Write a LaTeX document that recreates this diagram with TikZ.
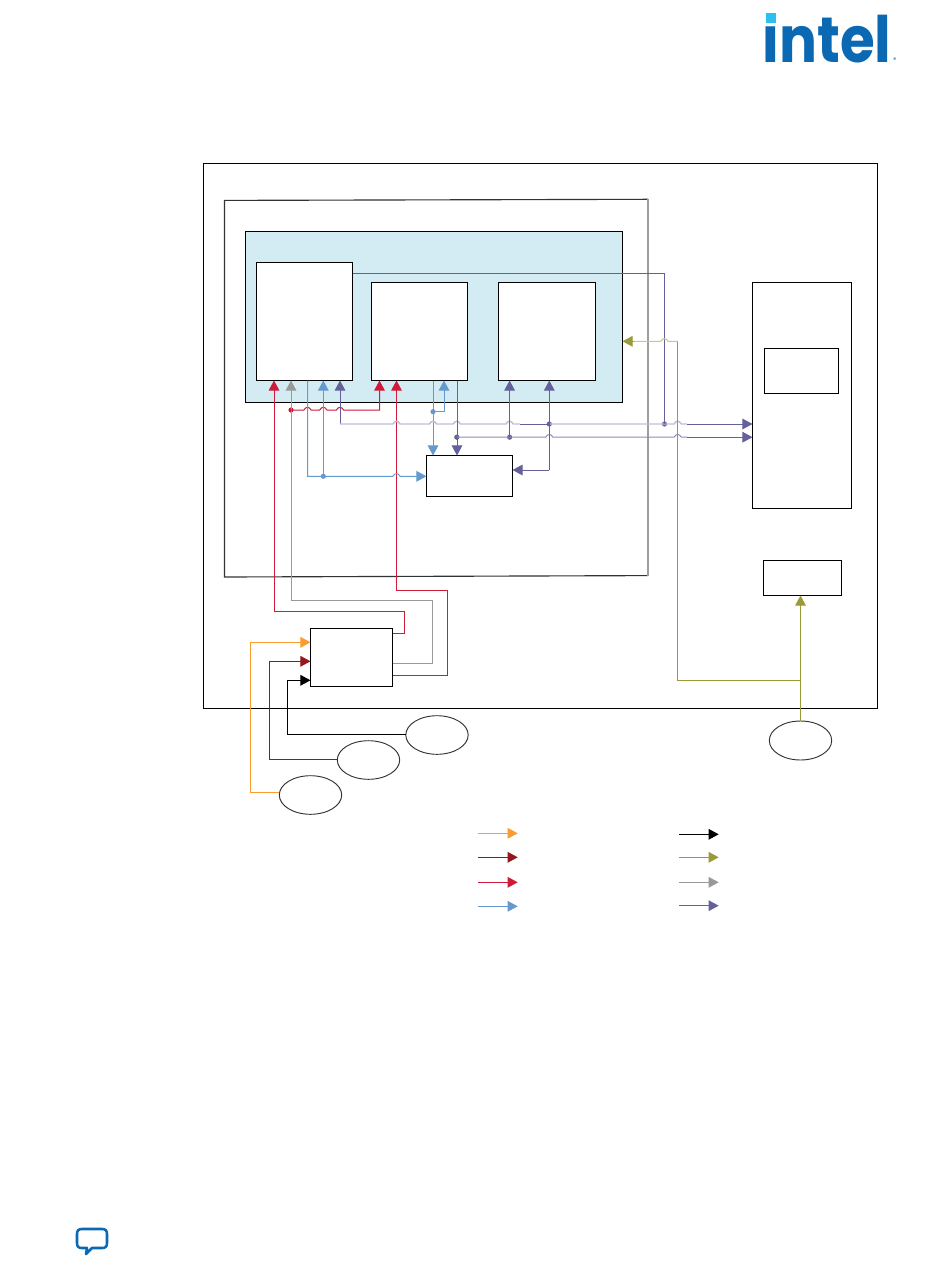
\documentclass[tikz,border=0pt]{standalone}
\usepackage{fontspec}
\usetikzlibrary{arrows.meta,shapes.geometric}
\newfontfamily\logofont{Poppins}
\definecolor{cOrange}{HTML}{F99D33}
\definecolor{cDark}{HTML}{96161D}
\definecolor{cRed}{HTML}{CE1B39}
\definecolor{cBlue}{HTML}{659ACF}
\definecolor{cPurple}{HTML}{64619A}
\definecolor{cPale}{HTML}{C0BFD6}
\definecolor{cMid}{HTML}{8F8DB8}
\definecolor{cOlive}{HTML}{9A9A38}
\definecolor{cPaleOl}{HTML}{C8C88C}
\definecolor{cGray}{HTML}{999999}
\definecolor{cTeal}{HTML}{D3ECF3}
\definecolor{cLogo}{HTML}{0B68B3}
\definecolor{cCyan}{HTML}{2CBFF0}
\tikzset{
  x=0.75pt,y=-0.75pt,
  boxst/.style={draw=black,line width=0.8pt,fill=white,rectangle,inner sep=0pt,outer sep=0pt},
  ellst/.style={draw=black!80,line width=0.7pt,fill=white,ellipse,inner sep=0pt,outer sep=0pt},
  wire/.style={line width=0.75pt,line join=miter},
  tip/.style={-{Triangle[width=8pt,length=7.6pt]}},
  dotst/.style={circle,inner sep=0pt,outer sep=0pt,minimum size=3.9pt},
}
% rectangle node from pixel corners
\newcommand{\pxbox}[6]{\node[boxst,#6,anchor=center,minimum width={(#4-#2)*0.75pt},minimum height={(#5-#3)*0.75pt}] (#1) at ({(#2+#4)/2},{(#3+#5)/2}) {};}
\newcommand{\pxell}[5]{\node[ellst,anchor=center,minimum width={2*#4*0.75pt},minimum height={2*#5*0.75pt}] (#1) at (#2,#3) {};}
\newcommand{\hop}[2]{-- (#1-3.6,#2) .. controls (#1-1.8,#2-3.6) and (#1+1.8,#2-3.6) .. (#1+3.6,#2)}
\newcommand{\jdot}[4]{\node[dotst,fill=#2] (#1) at (#3,#4) {};}
\begin{document}
\begin{tikzpicture}
\useasboundingbox (0,0) rectangle (950,1267);
\fill[white] (0,0) rectangle (950,1267);

% logo
\node[anchor=base west,inner sep=0pt,text=cLogo,xscale=0.88] (logo) at (762.4,62) {\logofont\bfseries\fontsize{48pt}{48pt}\selectfont intel};
\fill[white] (764,8) rectangle (778,25);
\fill[cCyan] (766,13) rectangle (776,22.7);
\node[anchor=center,inner sep=0pt,text=cLogo] (reg) at (894.7,60) {\logofont\fontsize{5pt}{5pt}\selectfont ®};

% speech bubble
\draw[cLogo,line width=1.9pt,line join=round] (82,1229) -- (102,1229) .. controls (105.5,1229) and (107,1230.5) .. (107,1234) -- (107,1243) .. controls (107,1246.5) and (105.5,1248) .. (102,1248) -- (92,1248) -- (86,1254) -- (87,1248) -- (82,1248) .. controls (78.5,1248) and (77,1246.5) .. (77,1243) -- (77,1234) .. controls (77,1230.5) and (78.5,1229) .. (82,1229) -- cycle;

% containers
\pxbox{outer}{203.5}{163.5}{877.5}{708.5}{}
\draw[black!80,line width=0.85pt] (648,199.3) -- (224.5,200.4) -- (224.5,577) -- (648,575.6);
\draw[black!38,line width=1.2pt] (648,198.9) -- (648,576);
\pxbox{teal}{245.5}{231.5}{622.5}{402.5}{fill=cTeal}
\pxbox{a}{256.5}{262.5}{352.5}{380.5}{}
\pxbox{b}{371.5}{282.5}{467.5}{380.5}{}
\pxbox{c}{498.5}{282.5}{595.5}{380.5}{}
\pxbox{d}{426.5}{455.5}{512.5}{496.5}{}
\pxbox{r}{752.5}{282.5}{851.5}{508.5}{}
\pxbox{rin}{764.5}{348.5}{838.5}{393.5}{}
\pxbox{e}{763.5}{560.5}{841.5}{595.5}{}
\pxbox{f}{310.5}{628.5}{392.5}{686.5}{}
\pxell{e1}{310.5}{795}{31.2}{19.3}
\pxell{e2}{368.5}{760}{31.2}{19.3}
\pxell{e3}{437}{735}{31.2}{19.3}
\pxell{e4}{800.5}{740.5}{31.2}{19.5}

% junctions
\jdot{jR}{cRed}{291}{410}
\jdot{jB1}{cBlue}{323.3}{476.3}
\jdot{jB2}{cBlue}{433}{411.7}
\jdot{jP1}{cPurple}{549.3}{424}
\jdot{jP2}{cPurple}{664.5}{424}
\jdot{jP3}{cPurple}{456.8}{437.2}
\jdot{jP4}{cPurple}{509.6}{437.2}

% orange / dark red / black inputs
\draw[wire,tip,cOrange] (e1.west |- 0,792.3) -- (250.3,792.3) -- (250.3,642.3) -- (f.west |- 0,642.3);
\draw[wire,tip,cDark] (e2.west |- 0,759.3) -- (269.3,759.3) -- (269.3,661.3) -- (f.west |- 0,661.3);
\draw[wire,tip,black] (e3.west |- 0,734.3) -- (287.3,734.3) -- (287.3,680.3) -- (f.west |- 0,680.3);

% f outputs
\draw[wire,tip,cRed] (f.east |- 0,633.3) -- (404.3,633.3) -- (404.3,611.3) -- (274,611.3) -- (a.south -| 274,0);
\draw[wire,tip,cGray] (f.east |- 0,663.3) -- (432.7,663.3) -- (432.7,600.3) -- (291,600.3) -- (a.south -| 291,0);
\draw[wire,tip,cRed] (f.east |- 0,675.3) -- (447.3,675.3) -- (447.3,590.3) -- (396.5,590.3) -- (b.south -| 396.5,0);

% red branch
\draw[wire,tip,cRed] (jR.center) \hop{307.5}{410} \hop{323.3}{410} \hop{340}{410} -- (379.5,410) -- (b.south -| 379.5,0);

% blue
\draw[wire,tip,cBlue] (a.south -| 307.5,0) -- (307.5,476.3) -- (jB1.center) \hop{396.5}{476.3} -- (d.west |- 0,476.3);
\draw[wire,tip,cBlue] (jB1.center) -- (a.south -| 323.3,0);
\draw[wire,tip,cBlue] (b.south -| 433,0) -- (d.north -| 433,0);
\draw[wire,tip,cBlue] (jB2.center) -- (444,411.7) -- (b.south -| 444,0);

% purple
\draw[wire,tip,cPurple] (340,424) -- (a.south -| 340,0);
\draw[line width=1.1pt,cPale] (340,424) \hop{396.5}{424} \hop{433}{424} \hop{456.8}{424} \hop{509.6}{424} -- (520,424);
\draw[wire,cPurple] (520,424) -- (jP1.center);
\draw[line width=1.1pt,cPale] (jP1.center) -- (jP2.center) \hop{677.7}{424} -- (687,424);
\draw[wire,tip,cPurple] (687,424) -- (r.west |- 0,424);
\draw[wire,cPurple] (a.east |- 0,273) -- (664.5,273) -- (jP2.center);
\draw[wire,tip,cPurple] (b.south -| 457,0) -- (d.north -| 457,0);
\draw[line width=0.75pt,cMid] (jP3.center) -- (jP4.center) \hop{549.3}{437.2} -- (664.5,437.2) \hop{677.7}{437.2} -- (687,437.2);
\draw[wire,tip,cPurple] (687,437.2) -- (r.west |- 0,437.2);
\draw[wire,tip,cPurple] (jP4.center) -- (c.south -| 509.6,0);
\draw[wire,tip,cPurple] (549.3,470) -- (jP1.center) -- (c.south -| 549.3,0);
\draw[wire,tip,cPurple] (549.3,470) -- (d.east |- 0,470);

% olive
\draw[wire,tip,cOlive] (e4.north) -- (e.south -| e4.north);
\draw[wire,cOlive] (e4.north |- 0,680) -- (677.7,680) -- (677.7,341.3);
\draw[line width=0.8pt,cPaleOl] (677.7,341.3) -- (668.1,341.3) .. controls (666.3,337.7) and (662.7,337.7) .. (660.9,341.3) -- (634,341.3);
\draw[wire,tip,cOlive] (634,341.3) -- (teal.east |- 0,341.3);

% legend
\coordinate (l1a) at (478,833.3); \coordinate (l1b) at (517.7,833.3);
\coordinate (l2a) at (478,857.3); \coordinate (l2b) at (517.7,857.3);
\coordinate (l3a) at (478,882.3); \coordinate (l3b) at (517.7,882.3);
\coordinate (l4a) at (478,906.3); \coordinate (l4b) at (517.7,906.3);
\coordinate (m1a) at (679.3,834.3); \coordinate (m1b) at (718.7,834.3);
\coordinate (m2a) at (679.3,857.3); \coordinate (m2b) at (718.7,857.3);
\coordinate (m3a) at (679.3,882.3); \coordinate (m3b) at (718.7,882.3);
\coordinate (m4a) at (679.3,905.7); \coordinate (m4b) at (718.7,905.7);
\draw[wire,tip,cOrange] (l1a) -- (l1b);
\draw[wire,tip,cDark] (l2a) -- (l2b);
\draw[wire,tip,cRed] (l3a) -- (l3b);
\draw[wire,tip,cBlue] (l4a) -- (l4b);
\draw[wire,tip,black] (m1a) -- (m1b);
\draw[wire,tip,cOlive] (m2a) -- (m2b);
\draw[wire,tip,cGray] (m3a) -- (m3b);
\draw[wire,tip,cPurple] (m4a) -- (m4b);
\end{tikzpicture}
\end{document}
